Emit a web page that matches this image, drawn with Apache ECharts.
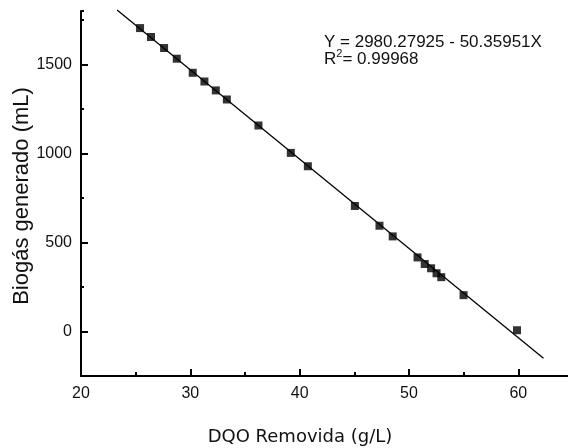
<!DOCTYPE html>
<html>
<head>
<meta charset="utf-8">
<script src="https://cdn.jsdelivr.net/npm/echarts@6/dist/echarts.min.js"></script>
<style>
  html, body { margin: 0; padding: 0; background: #fff; }
  #chart { width: 568px; height: 448px; }
</style>
</head>
<body>
<div id="chart"></div>
<script>
// DQO removida (g/L) vs biogas generado (mL)
const dqo = [25.4, 26.4, 27.6, 28.76, 30.22, 31.29, 32.33, 33.34, 36.23, 39.19, 40.75,
  45.05, 47.3, 48.51, 50.78, 51.44, 52.02, 52.52, 52.95, 54.99, 59.88];
const biogas = [1704, 1654, 1592, 1532, 1453, 1404, 1354, 1303, 1157, 1003, 928,
  705, 594, 534, 416, 379, 355, 327, 305, 204, 7];
// end points of the fitted line
const fitX = [23.3, 62.3];
const fitY = [1805, -150];
const xMajor = [30, 40, 50, 60];
const yMajor = [0, 500, 1000, 1500];

const axisFont = { fontFamily: "Liberation Sans, Arial", fontSize: 16, color: "#111" };

let myChart = echarts.init(document.getElementById("chart"), null, { renderer: "canvas" });
let option = {
  animation: false,
  grid: { left: 81, right: -5, top: 11, bottom: 72, containLabel: false, outerBoundsMode: "none" },
  xAxis: [
    {
      type: "value",
      min: 20,
      max: 65,
      interval: 5,
      axisLine: { onZero: false, lineStyle: { color: "#000", width: 2 } },
      axisTick: { inside: true, length: 4, lineStyle: { color: "#000", width: 2 } },
      axisLabel: {
        margin: 10,
        ...axisFont,
        formatter: v => (v % 10 === 0 && v <= 60 ? String(v) : "")
      },
      splitLine: { show: false }
    },
    {
      type: "value",
      min: 20,
      max: 65,
      position: "bottom",
      offset: 0,
      axisLine: { show: false, onZero: false },
      axisTick: { inside: true, length: 7, customValues: xMajor, lineStyle: { color: "#000", width: 2 } },
      axisLabel: { show: false },
      splitLine: { show: false }
    }
  ],
  yAxis: [
    {
      type: "value",
      min: -250,
      max: 1800,
      interval: 250,
      axisLine: { onZero: false, lineStyle: { color: "#000", width: 2 } },
      axisTick: { inside: true, length: 3, lineStyle: { color: "#000", width: 2 } },
      axisLabel: {
        margin: 9,
        ...axisFont,
        formatter: v => (v % 500 === 0 && v >= 0 ? String(v) : "")
      },
      splitLine: { show: false }
    },
    {
      type: "value",
      min: -250,
      max: 1800,
      position: "left",
      offset: 0,
      axisLine: { show: false, onZero: false },
      axisTick: { inside: true, length: 7, customValues: yMajor, lineStyle: { color: "#000", width: 2 } },
      axisLabel: { show: false },
      splitLine: { show: false }
    }
  ],
  graphic: [
    {
      type: "text",
      x: 22,
      y: 196,
      rotation: Math.PI / 2,
      style: {
        text: "Biogás generado (mL)",
        fontFamily: "Liberation Sans, Arial",
        fontSize: 22,
        fill: "#111",
        align: "center",
        verticalAlign: "middle"
      }
    },
    {
      type: "text",
      x: 300,
      y: 437,
      style: {
        text: "DQO Removida (g/L)",
        fontFamily: "DejaVu Sans",
        fontSize: 18,
        fill: "#111",
        align: "center",
        verticalAlign: "middle"
      }
    },
    {
      type: "text",
      x: 324,
      y: 42,
      style: {
        text: "Y = 2980.27925 - 50.35951X",
        fontFamily: "Liberation Sans, Arial",
        fontSize: 17,
        fill: "#111",
        align: "left",
        verticalAlign: "middle"
      }
    },
    {
      type: "text",
      x: 324,
      y: 59,
      style: {
        text: "{a|R}{b|2}{a|= 0.99968}",
        align: "left",
        verticalAlign: "middle",
        rich: {
          a: { fontFamily: "Liberation Sans, Arial", fontSize: 17, fill: "#111", lineHeight: 18 },
          b: { fontFamily: "Liberation Sans, Arial", fontSize: 11, fill: "#111", lineHeight: 22, verticalAlign: "top" }
        }
      }
    }
  ],
  series: [
    {
      name: "ajuste",
      type: "line",
      data: fitX.map((x, i) => [x, fitY[i]]),
      showSymbol: false,
      symbol: "none",
      clip: false,
      lineStyle: { color: "#000", width: 1.3 },
      z: 2
    },
    {
      name: "datos",
      type: "scatter",
      data: dqo.map((x, i) => [x, biogas[i]]),
      symbol: "rect",
      symbolSize: 8,
      itemStyle: { color: "#000" },
      z: 3
    }
  ]
};
myChart.setOption(option);
</script>
</body>
</html>
